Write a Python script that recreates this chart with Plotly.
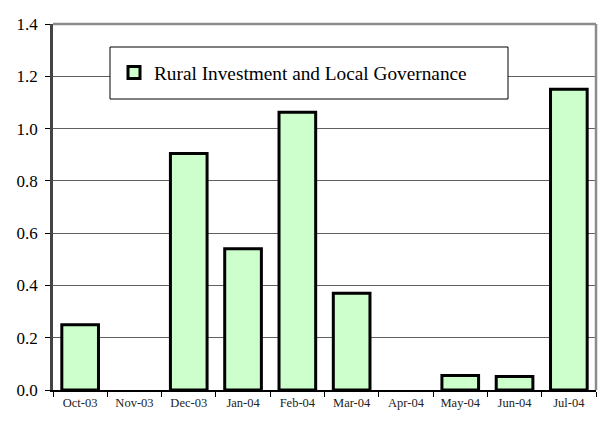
import plotly.graph_objects as go

months = ["Oct-03", "Nov-03", "Dec-03", "Jan-04", "Feb-04", "Mar-04",
          "Apr-04", "May-04", "Jun-04", "Jul-04"]
values = [0.25, None, 0.905, 0.54, 1.062, 0.37, None, 0.055, 0.052, 1.15]
series_name = "Rural Investment and Local Governance"
y_ticks = [0.0, 0.2, 0.4, 0.6, 0.8, 1.0, 1.2, 1.4]

FONT = "Times New Roman"

fig = go.Figure()
fig.add_trace(go.Bar(
    x=months, y=values, name=series_name,
    marker=dict(color="#CCFFCC", line=dict(color="black", width=3)),
    showlegend=True,
))

fig.update_layout(
    width=604, height=428,
    margin=dict(l=53, r=8, t=24, b=38),
    paper_bgcolor="white", plot_bgcolor="white",
    font=dict(family=FONT, color="black"),
    bargap=0.325,
    showlegend=True,
    legend=dict(
        x=(114 - 53) / 543, y=0.866, xanchor="left", yanchor="middle",
        bgcolor="rgba(0,0,0,0)", borderwidth=0,
        font=dict(family=FONT, size=19.3, color="black"),
        itemwidth=30,
    ),
    xaxis=dict(
        type="category", showgrid=False,
        showline=True, linecolor="black", linewidth=1.5,
        ticks="outside", tickson="boundaries", ticklen=5, tickcolor="black",
        tickfont=dict(family=FONT, size=12.5, color="#222"),
        zeroline=False, fixedrange=True,
    ),
    yaxis=dict(
        range=[0, 1.4], tickvals=y_ticks, tickformat=".1f",
        showgrid=True, gridcolor="#606060", gridwidth=1,
        showline=True, linecolor="#444", linewidth=2.5,
        ticks="outside", ticklen=5, tickcolor="black",
        tickfont=dict(family=FONT, size=17, color="black"),
        ticklabelstandoff=4,
        zeroline=False, fixedrange=True,
    ),
    shapes=[
        # top and right frame of plot area
        dict(type="line", xref="paper", yref="paper", x0=0, x1=1, y0=1, y1=1,
             line=dict(color="#8c8c8c", width=2.5)),
        dict(type="line", xref="paper", yref="paper", x0=1, x1=1, y0=0, y1=1,
             line=dict(color="#8c8c8c", width=2.5)),
        # legend box
        dict(type="rect", xref="paper", yref="paper",
             x0=(110 - 53) / 543, x1=(508 - 53) / 543,
             y0=(390 - 99) / 366, y1=(390 - 47) / 366,
             fillcolor="white", line=dict(color="black", width=1), layer="above"),
    ],
)

fig.write_html("out.html", config={"displayModeBar": False},
               post_script="document.body.style.margin='0px';")
